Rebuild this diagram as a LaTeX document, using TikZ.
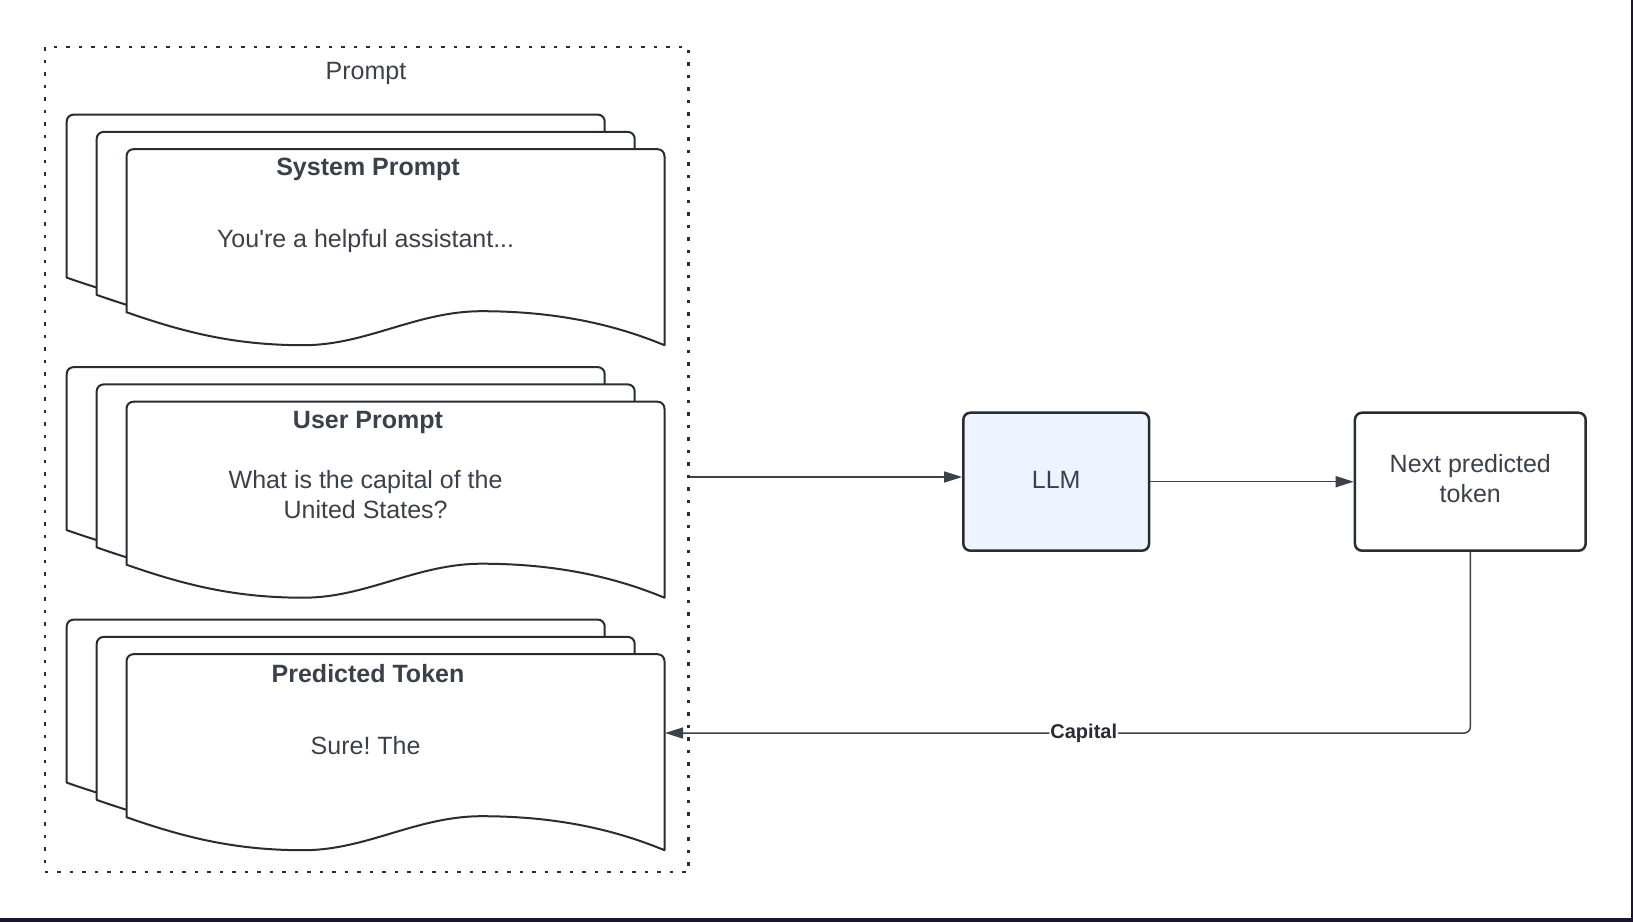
\documentclass[tikz,border=0pt]{standalone}
\usepackage{fontspec}
\setmainfont{Liberation Sans}
\usetikzlibrary{arrows.meta}
\frenchspacing
\definecolor{ink}{HTML}{282C33}
\definecolor{txt}{HTML}{3A414A}
\definecolor{llmfill}{HTML}{EDF3FF}
\definecolor{edgeband}{HTML}{1B1236}
\tikzset{
  sheetline/.style={draw=ink, fill=white, line width=2pt, line join=round},
  % one page of a document stack, origin at its top-left corner
  sheet/.pic={
    \filldraw[sheetline] (0,163) -- (0,7) .. controls (0,3) and (3,0) .. (7,0)
      -- (531,0) .. controls (535,0) and (538,3) .. (538,7) -- (538,196)
      .. controls (480,172) and (420,162) .. (355,162)
      .. controls (290,162) and (240,196) .. (177,196)
      .. controls (110,196) and (60,184) .. (0,163) -- cycle;
  },
  container/.style={draw=ink, line width=2.5pt, dash pattern=on 3.5pt off 9pt,
    inner sep=0pt, anchor=north west},
  box/.style={draw=ink, line width=2.5pt, rounded corners=7pt, inner sep=0pt},
  title/.style={text=txt, font=\fontsize{25}{30}\selectfont\bfseries, inner sep=0pt},
  body/.style={text=txt, font=\fontsize{25}{30}\selectfont, align=center, inner sep=0pt},
  flow/.style={draw=txt, line width=1.5pt, -{Triangle[length=18pt,width=11pt]}},
  edgelabel/.style={fill=white, text=ink, font=\fontsize{20}{24}\selectfont\bfseries,
    inner sep=1pt},
}
\begin{document}
\begin{tikzpicture}[x=1pt, y=-1pt]
\useasboundingbox (0,0) rectangle (1633,922);
\fill[white] (0,0) rectangle (1633,922);

% dotted frame round the three document stacks
\node[container, minimum width=643.7pt, minimum height=824.9pt] (prompt) at (43.7,45.8) {};
\node[body] (promptlabel) at (366,73.5) {Prompt};

% system prompt stack
\pic at (66.7,114.6) {sheet};
\pic at (96.7,131.9) {sheet};
\pic at (126.5,149.2) {sheet};
\node[title] (systitle) at (368,169.6) {System Prompt};
\node[body] (systext) at (365.6,241.5) {You\textquotesingle re a helpful assistant...};

% user prompt stack
\pic at (66.7,367.1) {sheet};
\pic at (96.7,384.4) {sheet};
\pic at (126.5,401.7) {sheet};
\node[title] (usrtitle) at (368,422) {User Prompt};
\node[body] (usrtext) at (365.6,494.2) {What is the capital of the\\United States?};

% predicted token stack
\pic at (66.7,619.6) {sheet};
\pic at (96.7,636.9) {sheet};
\pic at (126.5,654.2) {sheet};
\node[title] (predtitle) at (368,673.5) {Predicted Token};
\node[body] (predtext) at (365.6,746) {Sure! The};

% model and output
\node[box, fill=llmfill, minimum width=185.7pt, minimum height=138pt] (llm) at (1056.2,481.7) {};
\node[body] (llmtext) at (1056.2,479.6) {LLM};
\node[box, fill=white, minimum width=230.7pt, minimum height=138pt] (next) at (1470.3,481.7) {};
\node[body] (nexttext) at (1470.3,478.4) {Next predicted\\token};

% connectors
\coordinate (promptout) at ([yshift=-17.5pt]prompt.east);
\draw[flow] (promptout) -- (promptout -| llm.west);
\draw[flow] (llm.east) -- (next.west);
\coordinate (predin) at (665,733);
\draw[flow, rounded corners=6pt] (next.south) |- (predin)
  node[edgelabel, pos=0.74] (caplabel) {Capital};

% dark edge of the window
\fill[edgeband] (0,918) rectangle (1633,922);
\fill[edgeband] (1630.5,0) rectangle (1633,922);
\end{tikzpicture}
\end{document}
